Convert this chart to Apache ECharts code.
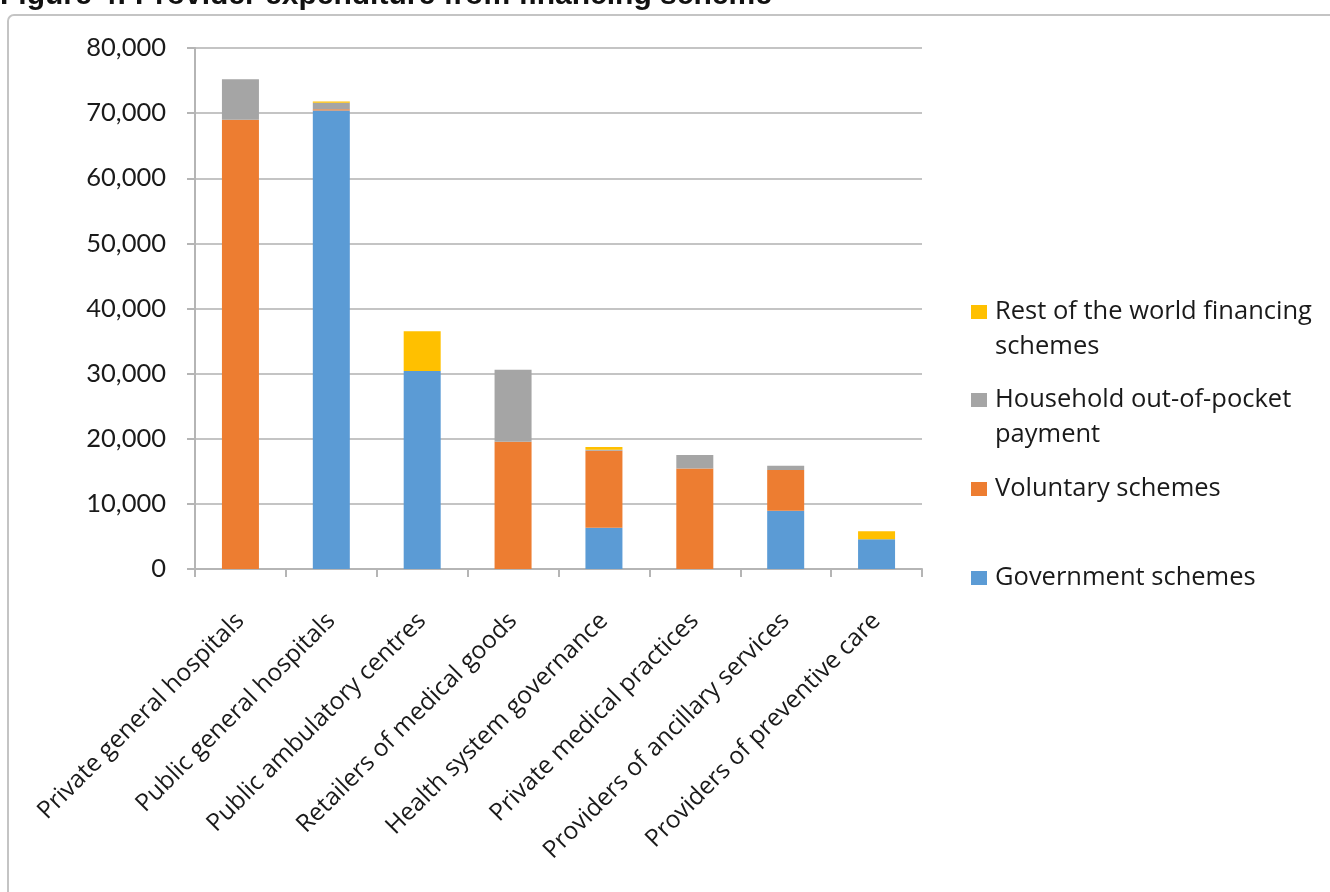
<!DOCTYPE html>
<html>
<head>
<meta charset="utf-8">
<script src="https://cdn.jsdelivr.net/npm/echarts@6/dist/echarts.min.js"></script>
<style>
html,body{margin:0;padding:0;background:#fff;}
#chart{width:1330px;height:892px;}
</style>
</head>
<body>
<div id="chart"></div>
<script>
const categories = [
  'Private general hospitals',
  'Public general hospitals',
  'Public ambulatory centres',
  'Retailers of medical goods',
  'Health system governance',
  'Private medical practices',
  'Providers of ancillary services',
  'Providers of preventive care'
];
const government = [0, 70400, 30400, 0, 6350, 0, 8950, 4570];
const voluntary  = [69000, 200, 0, 19550, 11800, 15450, 6250, 0];
const household  = [6200, 1000, 0, 11050, 150, 2050, 650, 0];
const restOfWorld = [0, 200, 6100, 0, 450, 0, 0, 1230];

const seriesNames = ['Government schemes', 'Voluntary schemes', 'Household out-of-pocket payment', 'Rest of the world financing schemes'];
const seriesData = [government, voluntary, household, restOfWorld];
const colors = ['#5B9BD5', '#ED7D31', '#A5A5A5', '#FFC000'];
const legendLabels = {
  'Rest of the world financing schemes': ['Rest of the world financing', 'schemes'],
  'Household out-of-pocket payment': ['Household out-of-pocket', 'payment'],
  'Voluntary schemes': ['Voluntary schemes'],
  'Government schemes': ['Government schemes']
};
const yTicks = { min: 0, max: 80000, interval: 10000 };

const LEGEND_FONT = '"Open Sans"';
const legendCenters = [312, 400, 489, 578];
const legendOrder = [3, 2, 1, 0];
const LH = 35;

const legends = legendOrder.map((si, k) => {
  const lines = legendLabels[seriesNames[si]];
  const twoLines = lines.length > 1;
  // a leading blank line keeps the marker level with the first text line
  const boxH = twoLines ? LH * 3 : LH;
  return {
    show: true,
    orient: 'vertical',
    left: 971,
    top: legendCenters[k] - boxH / 2,
    padding: 0,
    itemWidth: 16,
    itemHeight: 14,
    icon: 'rect',
    data: [seriesNames[si]],
    formatter: n => {
      const l = legendLabels[n];
      return l.length > 1 ? ' \n' + l.join('\n') : l[0];
    },
    selectedMode: false,
    textStyle: {
      fontFamily: LEGEND_FONT,
      fontSize: 25.5,
      color: '#1a1a1a',
      lineHeight: LH,
      padding: [0, 0, 0, 3]
    }
  };
});

const chart = echarts.init(document.getElementById('chart'), null, { renderer: 'canvas' });
chart.setOption({
  backgroundColor: '#ffffff',
  animation: false,
  color: colors,
  graphic: [
    {
      type: 'rect',
      shape: { x: 8, y: 15, width: 1400, height: 950, r: 6 },
      style: { fill: 'none', stroke: '#C4C4C4', lineWidth: 2 },
      silent: true
    },
    {
      type: 'text',
      left: 0,
      top: -19,
      style: {
        text: 'Figure 4: Provider expenditure from financing scheme',
        font: 'bold 30px "Liberation Sans", Arial, sans-serif',
        fill: '#111'
      },
      silent: true
    }
  ],
  legend: legends,
  grid: { left: 195, right: 408, top: 48, bottom: 323, containLabel: false },
  xAxis: {
    type: 'category',
    data: categories,
    axisLine: { show: true, lineStyle: { color: '#B5B5B5', width: 2 } },
    axisTick: { show: true, length: 8, lineStyle: { color: '#B5B5B5', width: 2 } },
    axisLabel: {
      rotate: 45,
      interval: 0,
      margin: 48,
      fontFamily: '"Open Sans"',
      fontSize: 24.5,
      color: '#1a1a1a'
    }
  },
  yAxis: {
    type: 'value',
    min: yTicks.min,
    max: yTicks.max,
    interval: yTicks.interval,
    axisLine: { show: true, lineStyle: { color: '#B5B5B5', width: 2 } },
    axisTick: { show: true, length: 8, lineStyle: { color: '#B5B5B5', width: 2 } },
    splitLine: { show: true, lineStyle: { color: '#C4C4C4', width: 2 } },
    axisLabel: {
      margin: 29,
      fontFamily: 'Lato',
      fontSize: 25.5,
      color: '#1a1a1a',
      formatter: v => v.toLocaleString('en-US')
    }
  },
  series: seriesNames.map((name, i) => ({
    name: name,
    type: 'bar',
    stack: 'total',
    barWidth: 37,
    data: seriesData[i],
    itemStyle: { color: colors[i] }
  }))
});
</script>
</body>
</html>
